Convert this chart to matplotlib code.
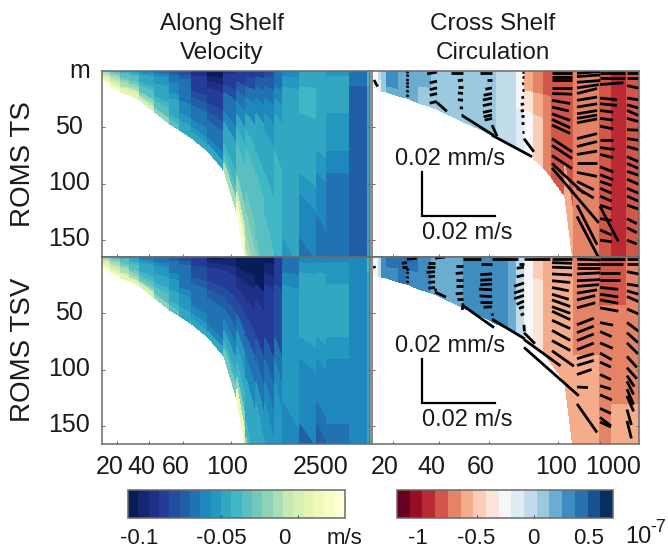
import numpy as np
import matplotlib
matplotlib.use('Agg')
import matplotlib.pyplot as plt
from matplotlib.colors import BoundaryNorm
from matplotlib.cm import ScalarMappable

plt.rcParams['font.family'] = ['Liberation Sans', 'DejaVu Sans']
W, H = 668, 553

# ---------- section coordinates (px-like along-section units) ----------
sigma = [0, .03, .08, .14, .22, .31, .41, .52, .63, .74, .85, .93, 1]
left_x = [0, 9, 19, 28, 38, 53, 68, 78, 90, 106, 122, 135, 144, 154, 163, 173, 181, 198, 215, 225, 248, 266, 268]
left_bot = [9.5, 14, 19, 21.5, 26, 36, 47, 52, 59, 71, 88, 126, 172, 175, 175, 175, 175, 175, 175, 175, 175, 175, 175]
left_slant = [0, 0, 0, 0, 0, 0, 0, 0, 0, 0, 0, 0, .28, .3, .3, .3, .2, .15, .12, 0, 0, 0]

# along-shelf velocity, cm/s; one list per column, surface to bottom
vel_ts = [
 [-3, -2.5, -2, -1.5, -1, -.5, 0, .5, 1, 1.5, 2, 2.5],
 [-4, -3.5, -3, -2.5, -2, -1.5, -1, -.5, 0, .5, 1, 2],
 [-5, -4.5, -4, -3.5, -3, -2.5, -2, -1.5, -1, 0, .5, 1],
 [-5.5, -5, -4.5, -4, -3.5, -3, -2.5, -2, -1, 0, .5, 1],
 [-6.5, -6, -5.5, -5, -4.5, -4.5, -4, -3.5, -3, -2, -1, 0],
 [-7, -7, -6, -5.5, -5.5, -5, -5, -4.5, -4, -3.5, -3, -2],
 [-7.5, -7.5, -7, -6.5, -6, -6, -5.5, -5, -5, -4.5, -4, -3.5],
 [-8, -8, -7.5, -7, -7, -6.5, -6.5, -6, -6, -5.5, -5, -4.5],
 [-10, -9.5, -9, -9, -8.5, -8, -7.5, -7, -6.5, -6, -5.5, -5],
 [-11, -10.5, -10, -9.5, -9, -8.5, -8, -7.5, -7, -6.5, -6, -5],
 [-9.5, -9, -8.5, -8, -7, -6.5, -6, -5, -4.5, -4, -3, -1.5],
 [-9, -8.5, -7.5, -7, -6, -5, -4, -3.5, -3, -2, 0, 2],
 [-8.5, -8, -7, -6, -5, -4, -3.5, -3, -2.5, -2, -1, 0],
 [-8.5, -7.5, -7, -6, -5, -4.5, -4, -3.5, -3.5, -3, -2.5, -2],
 [-8, -7.5, -6.5, -6, -5.5, -5, -4.5, -4, -4, -3.5, -3.5, -3],
 [-7, -6.5, -6, -5.5, -5, -4.5, -4, -4, -4, -4, -4, -4.5],
 [-6, -5.5, -5, -4.5, -4.5, -4.5, -4.5, -4.5, -4.5, -5, -5.5, -5.5],
 [-5, -4.5, -4, -4, -4.5, -4.5, -5, -5.5, -6, -6, -6.5, -6.5],
 [-5, -4.5, -4.5, -4.5, -5, -5, -5.5, -6, -6, -6.5, -6.5, -7],
 [-5.5, -5, -5, -5, -5.5, -5.5, -6, -6.5, -6.5, -6.5, -7, -7],
 [-7, -6.5, -7.5, -7.5, -7.5, -7.5, -7.5, -7.5, -7.5, -7.5, -7.5, -7.5],
 [-4, -4, -4.5, -4.5, -4.5, -4.5, -4.5, -4.5, -4.5, -4.5, -4.5, -4.5],
]
vel_tsv = [
 [-3, -2.5, -2, -1.5, -1, -.5, 0, .5, 1, 1.5, 2, 2.5],
 [-4, -3.5, -3, -2.5, -2, -1.5, -1, -.5, 0, .5, 1, 2],
 [-5, -4.5, -4, -3.5, -3, -2.5, -2, -1.5, -1, 0, .5, 1],
 [-5.5, -5, -4.5, -4.5, -4, -3.5, -3, -2.5, -2, -1, 0, 1],
 [-7, -6.5, -6, -5.5, -5, -4.5, -4.5, -4, -3.5, -2.5, -1.5, 0],
 [-7.5, -7, -6.5, -6, -5.5, -5.5, -5, -4.5, -4, -3.5, -3, -2],
 [-7.5, -7.5, -7, -6.5, -6.5, -6, -5.5, -5.5, -5, -4.5, -4, -3.5],
 [-8, -8, -7.5, -7, -7, -6.5, -6.5, -6, -5.5, -5.5, -5, -4.5],
 [-9, -9, -8.5, -8, -8, -7.5, -7, -7, -6.5, -6, -5.5, -5],
 [-10.5, -10, -9.5, -9, -8.5, -8, -7.5, -7, -7, -6.5, -6, -5],
 [-10, -10, -9.5, -9, -8.5, -8, -7.5, -7, -6, -5, -4, -2.5],
 [-11, -10.5, -10, -9.5, -9, -8, -7, -5.5, -5, -4, -2, 1.5],
 [-11.5, -11, -10, -9.5, -8.5, -8, -7, -6, -5, -4.5, -4, -2],
 [-11.5, -11, -10.5, -9.5, -9, -8.5, -7.5, -6.5, -5.5, -5, -5, -4.5],
 [-11, -10, -9.5, -9, -9, -8.5, -7.5, -7, -6, -5.5, -5.5, -5],
 [-9, -8.5, -8.5, -8, -8, -8, -7, -6, -5.5, -5.5, -5.5, -5.5],
 [-7, -6.5, -6, -5.5, -5.5, -5.5, -5.5, -5.5, -5.5, -6, -6, -6],
 [-6, -5.5, -5, -5, -5, -5, -5.5, -6, -6, -6, -7.5, -7.5],
 [-6, -5.5, -5, -5, -5, -5, -5.5, -6, -6, -7, -7.5, -7.5],
 [-6, -5.5, -5.5, -5, -5, -5, -5.5, -6, -6, -6, -7, -7],
 [-6, -6, -6, -6, -6, -6, -6, -6, -6, -6, -6, -6],
 [-4, -4, -4.5, -4.5, -4.5, -4.5, -4.5, -5, -5, -5, -5, -5],
]

right_sigma = [0, .25, .5, .75, 1]
right_x = [0, 7, 10, 15, 27, 35, 47, 60, 73, 92, 112, 125, 137, 145, 153, 162, 172, 180, 193, 202, 215, 228, 240, 255, 268]
right_bot = [15, 17, 18, 19, 22, 24, 28, 32, 37, 45, 53.5, 59, 64, 67, 71, 78, 86, 95, 111, 175, 175, 175, 175, 175, 175]

# cross-shelf circulation, 1e-7 units; one list per column, surface to bottom
circ_ts = [
 [-.25, -.25, -.25, -.25], [-.03, -.03, -.1, -.1], [.1, .1, .05, .05], [.3, .3, .3, .2],
 [.2, .2, .2, .2], [.2, .2, .2, .2], [.2, .2, .1, .1], [.1, .1, .1, .1],
 [.1, .1, .1, .1], [.1, .1, .1, .1], [.1, .1, .1, .1], [-.03, -.03, -.03, -.03],
 [-.03, -.03, -.03, -.03], [-.2, -.2, -.15, -.15], [-.58, -.35, -.3, -.3], [-.7, -.58, -.48, -.48],
 [-.8, -.7, -.7, -.7], [-.8, -.8, -.8, -.8], [-.8, -.8, -.8, -.58], [-.7, -.7, -.7, -.7],
 [-.7, -.7, -.7, -.7], [-.8, -.8, -.8, -.8], [-.93, -.93, -.93, -.93], [-.8, -.8, -.8, -.8],
]
circ_tsv = [
 [-.25, -.25, -.25, -.25], [0, 0, -.03, -.03], [.3, .3, .3, .3], [.42, .42, .3, .3],
 [.42, .42, .42, .42], [.42, .42, .3, .3], [.3, .3, .3, .3], [.2, .2, .2, .2],
 [.15, .2, .2, .2], [.3, .3, .3, .3], [.3, .3, .3, .3], [.3, .3, .3, .3],
 [.2, .2, .2, .2], [-.03, -.03, -.03, -.03], [-.25, -.25, -.25, -.25], [-.45, -.35, -.35, -.35],
 [-.6, -.55, -.55, -.55], [-.6, -.6, -.6, -.6], [-.6, -.6, -.6, -.6], [-.7, -.7, -.6, -.6],
 [-.7, -.7, -.6, -.6], [-.8, -.7, -.7, -.7], [-.85, -.7, -.7, -.6], [-.7, -.7, -.7, -.6],
]

# sticks: column position, then (depth m, u 1e-3 m/s, w 1e-3 mm/s)
sticks_ts = {
 2: [(8, 1, 3)],
 35: [(2, .3, -1), (5, .3, -1), (9, .3, -1), (12, .3, -1), (15, .3, -1), (19, .3, -1), (23, .3, -1)],
 65: [(1, -2.7, .8), (9, -2, .8), (15, -2, .8), (20, -2, .8), (27, -2, .8), (28, 2.7, 4)],
 91: [(2, -3.2, 0), (8, -1.4, .3), (14, -1.4, 0), (20, -1.4, -.3), (26, -1.4, -.3), (33, -.9, -.3), (39, -.5, 0), (40, 8.4, 8.8)],
 120: [(2, -3.2, 0), (8, -1.4, 0), (15, -1.8, .6), (20, -2.3, .8), (24, -2.5, .9), (29, -2.5, .9), (35, -2.5, .9), (39, -2.3, .8), (42, -2, .8), (48, 1.4, 5), (57, 11, 9.8)],
 152: [(1, -.5, 0), (5, -.5, 0), (11, -.5, .3), (17, -.5, 0), (23, -.7, .5), (29, -.9, .5), (35, -.9, .3), (40, -.7, 0), (46, -.7, 0), (54, -.5, 0), (60, 2.7, 6)],
 180: [(2, 5.5, 0), (5, 5.5, 0), (8, 5.5, 0), (15, 5.5, 0), (20, 5.5, .3), (26, 5, 1.5), (32, 4.6, 1.8), (38, 5, 3), (43, 5, 3.8), (48, 5, 3.8), (60, 5.5, 6), (66, 5.5, 6), (75, 5.5, 6), (82, 8.7, 13.6), (86, 12.8, 25)],
 205: [(2, 6.4, -.8), (5, 6.4, -.8), (10, 6.4, -.8), (15, 6, -1.5), (20, 5.5, -2.3), (26, 5.5, -1.5), (32, 5.5, -1.5), (38, 5.5, -1.5), (42, 5.5, -1.5), (46, 5.5, -1.8), (60, 5.5, -2.3), (67, 5.5, -2.3), (74, 5.5, -1.5), (82, 5.5, 0), (90, 5.5, 1.8), (98, 4.6, 3.8), (104, 4.6, 4.5), (119, 5.5, 18), (129, 6, 19)],
 228: [(2, 6.8, 0), (6, 6.8, 0), (12, 6.4, -.8), (24, 4.6, .8), (29, 4.6, .8), (35, 3.6, .8), (42, 3.6, .8), (49, 3.6, 1.2), (61, 3.6, 0), (68, 4, .8), (74, 3.6, 1.5), (85, 3.6, 2.3), (92, 3.6, 2.3), (98, 3.2, 1.8), (104, 3.2, 2.3), (111, 3.2, 2.3), (119, 3.2, 1.8), (120, 5, 16), (131, 3.2, .8), (141, 3.2, 2.3), (150, 3.2, .8)],
 255: [(2, 3.6, 0), (6, 3.6, 0), (13, 3.5, 1.2), (24, 3.2, .8), (30, 3.2, 1.5), (35, 3.2, 2.3), (42, 3.2, 1.5), (52, 3.2, .3), (60, 3.2, .8), (67, 3.2, 1.5), (76, 3.2, 2.3), (82, 3.2, 2.3), (89, 3.2, 1.8), (96, 3.2, 2.3), (104, 3.2, 2.3), (111, 3.2, 2.3), (119, 3.2, 1.8), (131, 2.7, 2.3), (139, 2.7, 2.3), (150, 2.7, 1.8)],
}
sticks_tsv = {
 2: [(8, .2, 1)],
 35: [(2, 2.7, -.5), (5, -1.4, .3), (9, -1.4, 0), (12, .3, -1), (15, .3, -1), (19, .3, -1), (23, .3, -1)],
 63: [(1, 2.7, -.5), (5, -1.8, 0), (9, -2.3, 0), (13, -2.3, .3), (17, -1.8, .3), (22, -1.8, .3), (27, -1.8, .3), (30, .3, -1), (31, 3, 2.3)],
 91: [(2, 5, 0), (8, -2, 0), (14, -2, .3), (20, -2, 0), (26, -2, 0), (32, -2, .3), (37, -1.6, 0), (41, -.2, 3), (43, 8.5, 10)],
 120: [(2, 7, 0), (6, -3, 0), (15, -3.2, .3), (20, -3.2, .3), (24, -3.2, .3), (29, -3.6, -.3), (35, -3.4, -.3), (40, -3.4, 0), (44, -2.3, .3), (50, .2, 1), (55, 9, 9)],
 152: [(2, 7, 0), (6, -1.4, 0), (9, -2, .5), (16, -2, .8), (23, -2.7, 1.5), (29, -2.7, 1.5), (34, -2.7, 1.5), (39, -2, 1.5), (44, -1.4, .8), (50, -.9, .8), (60, .1, 3), (67, 3, 5), (73, 10, 12), (80, 15, 22)],
 180: [(2, 5.5, 0), (5, 5.5, .3), (9, 5.5, .3), (15, 5.5, .5), (21, 5, .8), (27, 4.6, 1.5), (33, 4.6, 2.3), (38, 5, 3), (44, 5, 3), (48, 5, 3.8), (56, 5, 3.8), (65, 5, 4.5), (74, 5, 4.5), (83, 6, 7)],
 205: [(2, 6.4, .3), (6, 6.4, 0), (10, 6.4, 0), (15, 6.4, -.5), (21, 6.4, -.5), (26, 6, -.8), (32, 5.5, -1.5), (38, 5, -2), (45, 5, -2.3), (60, 4.6, -3), (67, 4.6, -3), (74, 4.6, -3), (82, 4.6, -3), (90, 4.6, -2.3), (96, 4.6, -2.3), (104, 4, -2.3), (115, 3, .3), (130, 5.5, 13)],
 228: [(2, 6.8, 0), (6, 6.4, 0), (14, 5.5, 0), (20, 5.5, 0), (27, 5, .8), (33, 5, 1.2), (38, 5, 1.5), (45, 5, 1.5), (58, 3.6, 1.2), (66, 3.2, 2.3), (76, 3.5, 2.5), (85, 3.2, 3), (93, 3, 2.3), (104, 3, 2.3), (114, 3, 1.5), (122, 3.2, 2.3), (134, 3, 2.3), (142, 3, 3.8), (146, 3, 2.3)],
 255: [(2, 4, 0), (6, 4, 0), (13, 3.6, 1.2), (24, 3.2, .8), (30, 3.2, 1.5), (35, 3.2, 2.3), (46, 3.2, 2.3), (58, 3.2, 4), (67, 3, 4.5), (76, 3, 5), (88, 2.7, 5), (98, 2.7, 5), (105, 2, 5), (110, 1.8, 6), (117, 1.8, 7), (123, 1.8, 7), (135, 1.2, 7), (145, 1.2, 8)],
}
scale_u, scale_w = 0.02, 0.02

x_ticks_left = [15, 47, 81, 129, 220]
x_ticks_right = [21, 67, 117, 186, 228]
x_labels_left = ['20', '40', '60', '100', '2500']
x_labels_right = ['20', '40', '60', '100', '1000']
y_ticks = [50, 100, 150]
cb_vel_ticks = [-.1, -.05, 0]
cb_circ_ticks = [-1, -.5, 0, .5]

GREY = '#6a6a6a'
cmap_vel = plt.get_cmap('YlGnBu_r', 21)
levels_vel = np.linspace(-.1106, .0305, 22)
norm_vel = BoundaryNorm(levels_vel, 21)
cmap_circ = plt.get_cmap('RdBu', 17)
levels_circ = np.linspace(-1.21, .703, 18)
norm_circ = BoundaryNorm(levels_circ, 17)

fig = plt.figure(figsize=(W / 100, H / 100), dpi=100)


def axpx(x0, y0, x1, y1):
    return fig.add_axes([x0 / W, 1 - y1 / H, (x1 - x0) / W, (y1 - y0) / H])


def txt(x, y, s, size=18, **kw):
    kw.setdefault('ha', 'center')
    kw.setdefault('va', 'center')
    fig.text(x / W, 1 - y / H, s, fontsize=size, color='#1a1a1a', **kw)


def columns(ax, xs, bot, table, levs, cmap, norm, slant=None, factor=1.0):
    lev = np.array(levs)
    table = np.array(table, float) * factor
    for i in range(len(xs) - 1):
        s = 0 if slant is None else slant[i]
        Y = np.column_stack([lev * bot[i], lev * bot[i + 1] * (1 + s)])
        Xc = np.tile([xs[i], xs[i + 1]], (len(lev), 1))
        ax.pcolormesh(Xc, Y, table[i][:, None], cmap=cmap, norm=norm, shading='flat', edgecolors='face', linewidth=.2)


def frame(ax, xlim, ylim, xt, yt):
    ax.set_xlim(*xlim)
    ax.set_ylim(ylim[1], ylim[0])
    ax.set_xticks(xt)
    ax.set_yticks(yt)
    ax.set_xticklabels([])
    ax.set_yticklabels([])
    ax.tick_params(direction='in', length=2.5, width=.7, color=GREY, right=True)
    for s in ax.spines.values():
        s.set_color(GREY)
        s.set_linewidth(1.1)


def draw_sticks(ax, sticks, m_per_px=50 / 56.5):
    for x0, rows_ in sticks.items():
        r = np.array(rows_)
        u = r[:, 1] / 1000 / scale_u * 73
        w = r[:, 2] / 1000 / scale_w * 44 * m_per_px
        for d, ui, wi in zip(r[:, 0], u, w):
            ax.plot([x0, x0 + ui], [d, d + wi], color='k', lw=2.0, solid_capstyle='butt')


rows = [(71, 257, 165), (257, 444, 165.5)]
vel_tables = [vel_ts, vel_tsv]
circ_tables = [circ_ts, circ_tsv]
stick_sets = [sticks_ts, sticks_tsv]
for k, (y0, y1, dmax) in enumerate(rows):
    a = axpx(102, y0, 370, y1)
    columns(a, left_x, left_bot, vel_tables[k], sigma, cmap_vel, norm_vel, left_slant, factor=.01)
    frame(a, (0, 268), (0, dmax), x_ticks_left, y_ticks)
    b = axpx(372, y0, 639, y1)
    columns(b, right_x, right_bot, circ_tables[k], right_sigma, cmap_circ, norm_circ)
    draw_sticks(b, stick_sets[k])
    frame(b, (0, 267), (0, dmax), x_ticks_right, y_ticks)
    # scale bar: 0.02 m/s and 0.02 mm/s
    dy = 0 if k == 0 else 186.5
    c = fig.add_axes([0, 0, 1, 1], facecolor='none')
    c.set_xlim(0, W)
    c.set_ylim(H, 0)
    c.axis('off')
    c.plot([422, 422, 495], [172 + dy, 216 + dy, 216 + dy], color='k', lw=1.6, solid_joinstyle='miter')
    txt(450, 159 + dy, '0.02 mm/s', 17)
    txt(467, 233 + dy, '0.02 m/s', 17)
    for t, py in zip(y_ticks, np.array([127, 183, 239]) + dy):
        txt(69, py, str(t), 18)

txt(80, 71, 'm', 18)
txt(222, 24, 'Along Shelf', 17.5)
txt(222, 53, 'Velocity', 17.5)
txt(493, 24, 'Cross Shelf', 17.5)
txt(493, 53, 'Circulation', 17.5)
txt(23, 164, 'ROMS TS', 20, rotation=90)
txt(23, 350, 'ROMS TSV', 20, rotation=90)

for s, px in zip(x_labels_left, [110, 141, 176, 227, 321]):
    txt(px, 467, s, 18)
for s, px in zip(x_labels_right, [385, 431, 481, 556, 613]):
    txt(px, 467, s, 18)

cax1 = axpx(128, 490, 345, 518)
cb1 = fig.colorbar(ScalarMappable(norm=norm_vel, cmap=cmap_vel), cax=cax1, orientation='horizontal', ticks=cb_vel_ticks, spacing='proportional')
cax2 = axpx(397, 490, 613, 518)
cb2 = fig.colorbar(ScalarMappable(norm=norm_circ, cmap=cmap_circ), cax=cax2, orientation='horizontal', ticks=cb_circ_ticks, spacing='proportional')
for cb in (cb1, cb2):
    cb.ax.tick_params(direction='in', length=2, width=.7, labelbottom=False, color='#333333')
    cb.ax.minorticks_off()
    cb.outline.set_edgecolor(GREY)
    cb.outline.set_linewidth(1.1)
for s, px in zip(['-0.1', '-0.05', '0', 'm/s'], [139, 221, 284, 344]):
    txt(px, 539, s, 16)
for s, px in zip(['-1', '-0.5', '0', '0.5'], [418, 476, 533, 589]):
    txt(px, 539, s, 16)
txt(638, 537, '10', 17)
txt(658, 527, '-7', 13)

fig.savefig('out.png', dpi=100)
